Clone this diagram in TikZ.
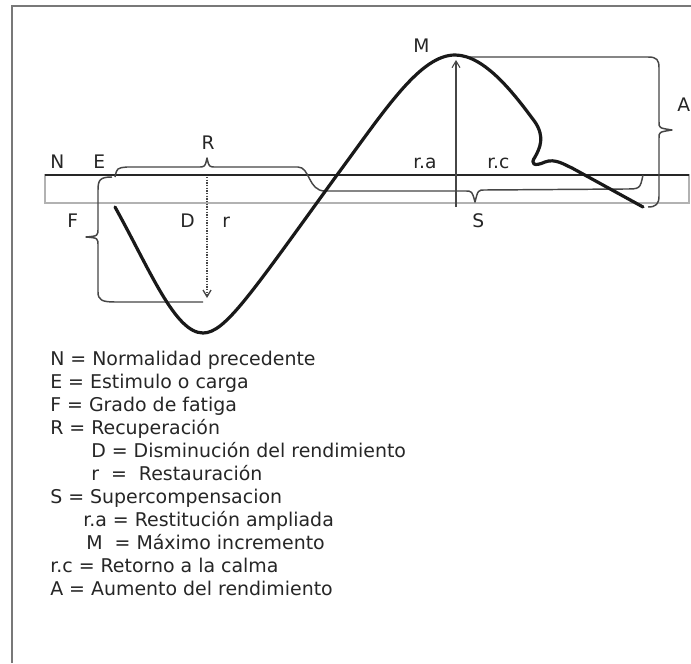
\documentclass[tikz,border=0pt]{standalone}
\usepackage{fontspec}
\setmainfont{DejaVu Sans}
\usetikzlibrary{arrows.meta}
\definecolor{frgray}{RGB}{120,120,120}
\definecolor{brgray}{RGB}{70,70,70}
\tikzset{
    lbl/.style={anchor=base west, inner sep=0pt, font=\fontsize{14}{16}\selectfont, text=black!85},
    legend/.style={anchor=base west, inner sep=0pt, font=\fontsize{14.2}{16}\selectfont, text=black!85},
    bracestyle/.style={line width=1.1pt, color=brgray, line join=round},
    perfcurve/.style={line width=2.4pt, color=black!90, line join=round, line cap=round},
    band/.style={line width=0.8pt, color=gray!60}
}
\begin{document}
\begin{tikzpicture}[x=0.75pt, y=-0.75pt,
        arrup/.style={-{Straight Barb[length=5pt, width=6pt]}, line width=0.8pt, color=brgray},
        arrdot/.style={-{Straight Barb[length=5pt, width=6pt]}, line width=1pt, densely dotted, color=brgray}
    ]
    \useasboundingbox (0,0) rectangle (691,663);
    \fill[white] (0,0) rectangle (691,663);
    \draw[line width=1.6pt, frgray] (12,663) -- (12,6) -- (691,6);
    % normal level band
    \draw[band] (45,175) rectangle (689,203);
    \draw[line width=1.3pt, black!85] (45,175) -- (689,175);
    % named points
    \coordinate (peak) at (456,60);
    \coordinate (peakfoot) at (456,207);
    \coordinate (dtop) at (207,177);
    \coordinate (dbottom) at (207,298);
    % braces
    \draw[bracestyle] (115,177) .. controls (117,168) .. (127,167) -- (198,167)
        .. controls (205,167) .. (207,158) .. controls (209,167) .. (216,167) -- (298,167)
        .. controls (310,167) and (308,191) .. (325,191) -- (465,191)
        .. controls (472,191) .. (475,202) .. controls (478,190) .. (485,190) -- (625,189)
        .. controls (640,189) .. (643,175);
    \draw[bracestyle] (112,177) .. controls (100,177) and (98,180) .. (98,190) -- (98,228)
        .. controls (98,236) .. (86,237) .. controls (98,238) .. (98,246) -- (98,292)
        .. controls (98,300) and (102,302) .. (115,302) -- (203,302);
    \draw[bracestyle] (470,57) -- (648,57) .. controls (657,57) and (659,60) .. (659,68) -- (659,122)
        .. controls (659,128) .. (672,130) .. controls (659,132) .. (659,138) -- (659,196)
        .. controls (659,204) and (656,207) .. (648,207);
    % arrows
    \draw[arrup] (peakfoot) -- (peak);
    \draw[arrdot] (dtop) -- (dbottom);
    % performance curve
    \draw[perfcurve] (115,207) .. controls (150,270) and (175,333) .. (203,333)
        .. controls (225,333) and (250,295) .. (337,175)
        .. controls (385,110) and (420,55) .. (455,55)
        .. controls (485,55) and (515,95) .. (535,122)
        .. controls (545,137) and (540,148) .. (535,157)
        .. controls (530,164) and (534,167) .. (545,162)
        .. controls (555,158) and (565,165) .. (572,168) -- (643,207);
    % labels on the graph
    \node[lbl] (lN) at (50,168) {N};
    \node[lbl] (lE) at (93,168) {E};
    \node[lbl, anchor=base] (lR) at (208,149) {R};
    \node[lbl] (lF) at (67,227) {F};
    \node[lbl] (lD) at (180,227) {D};
    \node[lbl] (lr) at (222,227) {r};
    \node[lbl] (lM) at (413,53) {M};
    \node[lbl] (lra) at (413,168) {r.a};
    \node[lbl] (lrc) at (487,168) {r.c};
    \node[lbl] (lS) at (472,227) {S};
    \node[lbl] (lA) at (677,112) {A};
    % legend
    \node[legend] (leg1) at (50,365) {N = Normalidad precedente};
    \node[legend] (leg2) at (50,388) {E = Estimulo o carga};
    \node[legend] (leg3) at (50,411) {F = Grado de fatiga};
    \node[legend] (leg4) at (50,434) {R = Recuperación};
    \node[legend] (leg5) at (91,457) {D = Disminución del rendimiento};
    \node[legend] (leg6) at (91,480) {r\ \ =\ \ Restauración};
    \node[legend] (leg7) at (50,503) {S = Supercompensacion};
    \node[legend] (leg8) at (83,526) {r.a = Restitución ampliada};
    \node[legend] (leg9) at (86,549) {M\ \ = Máximo incremento};
    \node[legend] (leg10) at (50,572) {r.c = Retorno a la calma};
    \node[legend] (leg11) at (50,595) {A = Aumento del rendimiento};
\end{tikzpicture}
\end{document}
